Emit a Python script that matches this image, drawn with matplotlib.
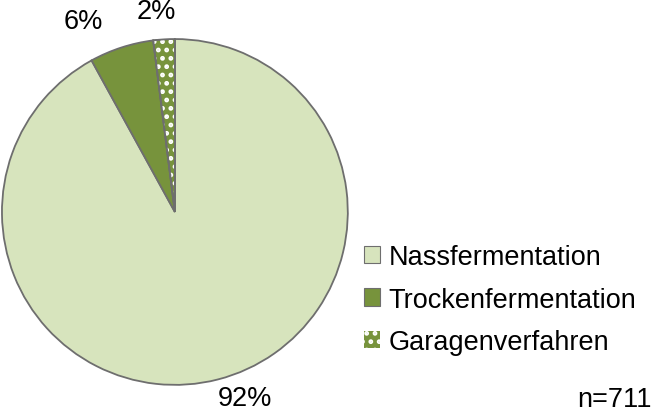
import matplotlib
matplotlib.use("Agg")
import matplotlib.pyplot as plt
from matplotlib.patches import Wedge, Patch

plt.rcParams['font.family'] = ['Liberation Sans', 'DejaVu Sans']
plt.rcParams['hatch.linewidth'] = 2.2

categories = ["Nassfermentation", "Trockenfermentation", "Garagenverfahren"]
shares = [92, 6, 2]
colors = ["#D7E4BD", "#77933C", "#77933C"]
sample_note = "n=711"

edge = "#6E6E6E"
fs = 19.5

fig = plt.figure(figsize=(6.55, 4.14), dpi=100)
ax = fig.add_axes([0.003, 0.0676, 0.528, 0.836])

wedges, texts, autotexts = ax.pie(
    shares, colors=colors, startangle=90, counterclock=False,
    autopct='%1.0f%%', pctdistance=1.12,
    wedgeprops=dict(edgecolor=edge, linewidth=1.3),
    textprops=dict(fontsize=fs, color="black"),
)

# dotted pattern for the third slice
w = wedges[2]
overlay = Wedge(w.center, w.r, w.theta1, w.theta2, facecolor="none",
                edgecolor="white", linewidth=0, hatch="..")
ax.add_patch(overlay)
border = Wedge(w.center, w.r, w.theta1, w.theta2, facecolor="none",
               edgecolor=edge, linewidth=1.3)
ax.add_patch(border)

label_pos = [(0.405, -1.075), (-0.53, 1.105), (-0.105, 1.16)]
for t, p in zip(autotexts, label_pos):
    t.set_position(p)
    t.set_ha("center")
    t.set_va("center")

ax.set_xlim(-1.0, 1.0)
ax.set_ylim(-1.0, 1.0)
ax.set_aspect("equal")
ax.axis("off")

handles = [
    Patch(facecolor=colors[0], edgecolor=edge, linewidth=0.8),
    Patch(facecolor=colors[1], edgecolor=edge, linewidth=0.8),
    Patch(facecolor=colors[2], edgecolor="white", linewidth=0.0, hatch=".."),
]
fig.legend(handles, categories, loc="center left",
           bbox_to_anchor=(0.556, 0.274), frameon=False, fontsize=fs,
           handlelength=0.6, handleheight=0.6, handletextpad=0.3,
           labelspacing=0.62, borderaxespad=0, borderpad=0)

fig.text(0.995, 0.035, sample_note, ha="right", va="center", fontsize=fs)

fig.savefig("out.png", dpi=100)
